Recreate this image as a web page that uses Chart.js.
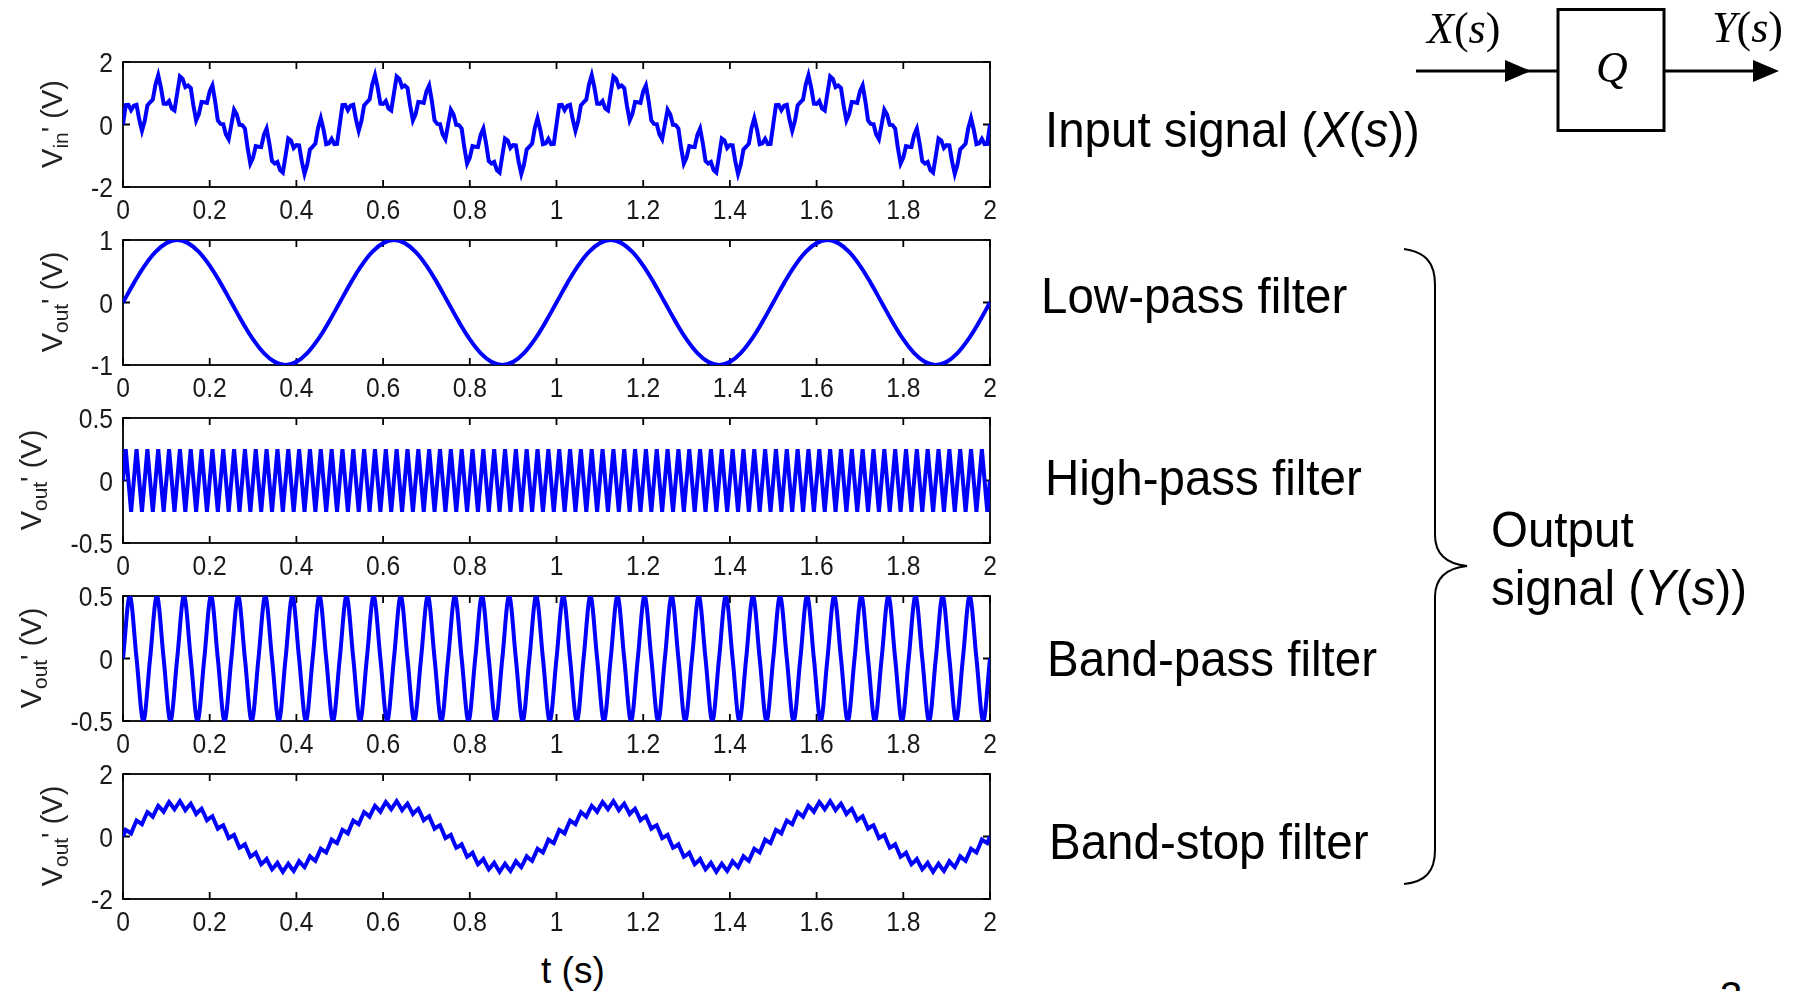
<!DOCTYPE html>
<html><head><meta charset="utf-8">
<script src="https://cdn.jsdelivr.net/npm/chart.js@4.4.1/dist/chart.umd.min.js"></script>
<style>
html,body{margin:0;padding:0;background:#fff;}
body{width:1801px;height:991px;overflow:hidden;position:relative;font-family:"Liberation Sans",Arial,sans-serif;}
canvas.panel{position:absolute;left:0;}
.lbl{position:absolute;font-size:50px;line-height:50px;white-space:nowrap;color:#000;transform-origin:0 50%;transform:scaleX(0.95);}
.ytitle{position:absolute;font-size:29px;line-height:29px;white-space:nowrap;color:#222;transform:translate(-50%,-50%) rotate(-90deg);}
.ytitle sub{font-size:72%;vertical-align:-0.3em;line-height:0;}
.xtitle{position:absolute;font-size:37px;line-height:37px;white-space:nowrap;color:#000;}
svg{position:absolute;left:0;top:0;}
</style></head><body>

<canvas id="c0" class="panel" width="1000" height="180" style="top:52px"></canvas>
<canvas id="c1" class="panel" width="1000" height="180" style="top:230px"></canvas>
<canvas id="c2" class="panel" width="1000" height="180" style="top:408px"></canvas>
<canvas id="c3" class="panel" width="1000" height="180" style="top:586px"></canvas>
<canvas id="c4" class="panel" width="1000" height="180" style="top:764px"></canvas>

<div class="ytitle" style="left:52px;top:124px">V<sub>in</sub>' (V)</div>
<div class="ytitle" style="left:52px;top:302px">V<sub>out</sub>' (V)</div>
<div class="ytitle" style="left:31px;top:480px">V<sub>out</sub>' (V)</div>
<div class="ytitle" style="left:31px;top:658px">V<sub>out</sub>' (V)</div>
<div class="ytitle" style="left:52px;top:836px">V<sub>out</sub>' (V)</div>

<div class="xtitle" style="left:541px;top:952px">t (s)</div>

<div class="lbl" style="left:1045px;top:105px">Input signal (<i>X</i>(<i>s</i>))</div>
<div class="lbl" style="left:1041px;top:271px">Low-pass filter</div>
<div class="lbl" style="left:1045px;top:453px">High-pass filter</div>
<div class="lbl" style="left:1047px;top:634px">Band-pass filter</div>
<div class="lbl" style="left:1049px;top:817px">Band-stop filter</div>
<div class="lbl" style="left:1491px;top:505px">Output</div>
<div class="lbl" style="left:1491px;top:563px">signal (<i>Y</i>(<i>s</i>))</div>
<div class="lbl" style="left:1720px;top:971px;font-size:40px;transform:none">3</div>

<svg width="1801" height="991" viewBox="0 0 1801 991">
  <path d="M1404,249 C1425,252 1435,262 1435,285 L1435,535 C1435,556 1448,564 1467,566 C1448,568 1435,576 1435,597 L1435,850 C1435,872 1425,882 1404,884" fill="none" stroke="#000" stroke-width="2"/>
  <rect x="1558" y="9.5" width="106" height="121" fill="none" stroke="#000" stroke-width="3"/>
  <line x1="1416" y1="71" x2="1558" y2="71" stroke="#000" stroke-width="3"/>
  <polygon points="1505,60 1531,71 1505,82" fill="#000"/>
  <line x1="1664" y1="71" x2="1760" y2="71" stroke="#000" stroke-width="3"/>
  <polygon points="1753,60 1779,71 1753,82" fill="#000"/>
  <text x="1427" y="43" font-family="Liberation Serif, Times New Roman, serif" font-size="44" font-style="italic">X<tspan font-style="normal">(</tspan>s<tspan font-style="normal">)</tspan></text>
  <text x="1712" y="42" font-family="Liberation Serif, Times New Roman, serif" font-size="44" font-style="italic">Y<tspan font-style="normal">(</tspan>s<tspan font-style="normal">)</tspan></text>
  <text x="1612" y="82" text-anchor="middle" font-family="Liberation Serif, Times New Roman, serif" font-size="44" font-style="italic">Q</text>
</svg>

<script>
// ---------- data ----------
const xTickValues = [0, 0.2, 0.4, 0.6, 0.8, 1, 1.2, 1.4, 1.6, 1.8, 2];
const xTickLabels = ['0', '0.2', '0.4', '0.6', '0.8', '1', '1.2', '1.4', '1.6', '1.8', '2'];

const yTicksInput = [-2, 0, 2];      const yLabelsInput = ['-2', '0', '2'];
const yTicksLow = [-1, 0, 1];        const yLabelsLow = ['-1', '0', '1'];
const yTicksHigh = [-0.5, 0, 0.5];   const yLabelsHigh = ['-0.5', '0', '0.5'];
const yTicksBand = [-0.5, 0, 0.5];   const yLabelsBand = ['-0.5', '0', '0.5'];
const yTicksStop = [-2, 0, 2];       const yLabelsStop = ['-2', '0', '2'];

// sample spacing (s) of each series
const inputStep = 0.00625;
const lowPassStep = 0.025;
const highPassStep = 0.00625;
const bandPassStep = 0.015625;
const bandStopStep = 0.00625;

const inputSignal = [
0,.62,.63,.46,.60,.63,.16,-.20,.11,.61,.71,.80,1.28,1.58,1.18,.67,.66,.75,.51,.45,
1.00,1.54,1.46,1.20,1.25,1.17,.60,.13,.33,.72,.71,.69,1.06,1.25,.75,.13,.02,.01,-.32,-.47,
0,.47,.32,-.01,-.02,-.13,-.75,-1.25,-1.06,-.69,-.71,-.72,-.33,-.13,-.60,-1.17,-1.25,-1.20,-1.46,-1.54,
-1.00,-.45,-.51,-.75,-.66,-.67,-1.18,-1.58,-1.28,-.80,-.71,-.61,-.11,.20,-.16,-.63,-.60,-.46,-.63,-.62,
0,.62,.63,.46,.60,.63,.16,-.20,.11,.61,.71,.80,1.28,1.58,1.18,.67,.66,.75,.51,.45,
1.00,1.54,1.46,1.20,1.25,1.17,.60,.13,.33,.72,.71,.69,1.06,1.25,.75,.13,.02,.01,-.32,-.47,
0,.47,.32,-.01,-.02,-.13,-.75,-1.25,-1.06,-.69,-.71,-.72,-.33,-.13,-.60,-1.17,-1.25,-1.20,-1.46,-1.54,
-1.00,-.45,-.51,-.75,-.66,-.67,-1.18,-1.58,-1.28,-.80,-.71,-.61,-.11,.20,-.16,-.63,-.60,-.46,-.63,-.62,
0,.62,.63,.46,.60,.63,.16,-.20,.11,.61,.71,.80,1.28,1.58,1.18,.67,.66,.75,.51,.45,
1.00,1.54,1.46,1.20,1.25,1.17,.60,.13,.33,.72,.71,.69,1.06,1.25,.75,.13,.02,.01,-.32,-.47,
0,.47,.32,-.01,-.02,-.13,-.75,-1.25,-1.06,-.69,-.71,-.72,-.33,-.13,-.60,-1.17,-1.25,-1.20,-1.46,-1.54,
-1.00,-.45,-.51,-.75,-.66,-.67,-1.18,-1.58,-1.28,-.80,-.71,-.61,-.11,.20,-.16,-.63,-.60,-.46,-.63,-.62,
0,.62,.63,.46,.60,.63,.16,-.20,.11,.61,.71,.80,1.28,1.58,1.18,.67,.66,.75,.51,.45,
1.00,1.54,1.46,1.20,1.25,1.17,.60,.13,.33,.72,.71,.69,1.06,1.25,.75,.13,.02,.01,-.32,-.47,
0,.47,.32,-.01,-.02,-.13,-.75,-1.25,-1.06,-.69,-.71,-.72,-.33,-.13,-.60,-1.17,-1.25,-1.20,-1.46,-1.54,
-1.00,-.45,-.51,-.75,-.66,-.67,-1.18,-1.58,-1.28,-.80,-.71,-.61,-.11,.20,-.16,-.63,-.60,-.46,-.63,-.62,
0];

const lowPassOut = [
0,.31,.59,.81,.95,1,.95,.81,.59,.31,0,-.31,-.59,-.81,-.95,-1,-.95,-.81,-.59,-.31,
0,.31,.59,.81,.95,1,.95,.81,.59,.31,0,-.31,-.59,-.81,-.95,-1,-.95,-.81,-.59,-.31,
0,.31,.59,.81,.95,1,.95,.81,.59,.31,0,-.31,-.59,-.81,-.95,-1,-.95,-.81,-.59,-.31,
0,.31,.59,.81,.95,1,.95,.81,.59,.31,0,-.31,-.59,-.81,-.95,-1,-.95,-.81,-.59,-.31,
0];

const highPassOut = [
0,.25,0,-.25,0,.25,0,-.25,0,.25,0,-.25,0,.25,0,-.25,0,.25,0,-.25,
0,.25,0,-.25,0,.25,0,-.25,0,.25,0,-.25,0,.25,0,-.25,0,.25,0,-.25,
0,.25,0,-.25,0,.25,0,-.25,0,.25,0,-.25,0,.25,0,-.25,0,.25,0,-.25,
0,.25,0,-.25,0,.25,0,-.25,0,.25,0,-.25,0,.25,0,-.25,0,.25,0,-.25,
0,.25,0,-.25,0,.25,0,-.25,0,.25,0,-.25,0,.25,0,-.25,0,.25,0,-.25,
0,.25,0,-.25,0,.25,0,-.25,0,.25,0,-.25,0,.25,0,-.25,0,.25,0,-.25,
0,.25,0,-.25,0,.25,0,-.25,0,.25,0,-.25,0,.25,0,-.25,0,.25,0,-.25,
0,.25,0,-.25,0,.25,0,-.25,0,.25,0,-.25,0,.25,0,-.25,0,.25,0,-.25,
0,.25,0,-.25,0,.25,0,-.25,0,.25,0,-.25,0,.25,0,-.25,0,.25,0,-.25,
0,.25,0,-.25,0,.25,0,-.25,0,.25,0,-.25,0,.25,0,-.25,0,.25,0,-.25,
0,.25,0,-.25,0,.25,0,-.25,0,.25,0,-.25,0,.25,0,-.25,0,.25,0,-.25,
0,.25,0,-.25,0,.25,0,-.25,0,.25,0,-.25,0,.25,0,-.25,0,.25,0,-.25,
0,.25,0,-.25,0,.25,0,-.25,0,.25,0,-.25,0,.25,0,-.25,0,.25,0,-.25,
0,.25,0,-.25,0,.25,0,-.25,0,.25,0,-.25,0,.25,0,-.25,0,.25,0,-.25,
0,.25,0,-.25,0,.25,0,-.25,0,.25,0,-.25,0,.25,0,-.25,0,.25,0,-.25,
0,.25,0,-.25,0,.25,0,-.25,0,.25,0,-.25,0,.25,0,-.25,0,.25,0,-.25,
0];

const bandPassOut = [
0,.5,0,-.5,0,.5,0,-.5,0,.5,0,-.5,0,.5,0,-.5,
0,.5,0,-.5,0,.5,0,-.5,0,.5,0,-.5,0,.5,0,-.5,
0,.5,0,-.5,0,.5,0,-.5,0,.5,0,-.5,0,.5,0,-.5,
0,.5,0,-.5,0,.5,0,-.5,0,.5,0,-.5,0,.5,0,-.5,
0,.5,0,-.5,0,.5,0,-.5,0,.5,0,-.5,0,.5,0,-.5,
0,.5,0,-.5,0,.5,0,-.5,0,.5,0,-.5,0,.5,0,-.5,
0,.5,0,-.5,0,.5,0,-.5,0,.5,0,-.5,0,.5,0,-.5,
0,.5,0,-.5,0,.5,0,-.5,0,.5,0,-.5,0,.5,0,-.5,
0];

const bandStopOut = [
0,.21,.16,.10,.31,.51,.45,.39,.59,.78,.71,.63,.81,.98,.89,.79,.95,1.10,.99,.87,
1.00,1.13,.99,.84,.95,1.05,.89,.72,.81,.89,.71,.52,.59,.65,.45,.25,.31,.36,.16,-.05,
0,.05,-.16,-.36,-.31,-.25,-.45,-.65,-.59,-.52,-.71,-.89,-.81,-.72,-.89,-1.05,-.95,-.84,-.99,-1.13,
-1.00,-.87,-.99,-1.10,-.95,-.79,-.89,-.98,-.81,-.63,-.71,-.78,-.59,-.39,-.45,-.51,-.31,-.10,-.16,-.21,
0,.21,.16,.10,.31,.51,.45,.39,.59,.78,.71,.63,.81,.98,.89,.79,.95,1.10,.99,.87,
1.00,1.13,.99,.84,.95,1.05,.89,.72,.81,.89,.71,.52,.59,.65,.45,.25,.31,.36,.16,-.05,
0,.05,-.16,-.36,-.31,-.25,-.45,-.65,-.59,-.52,-.71,-.89,-.81,-.72,-.89,-1.05,-.95,-.84,-.99,-1.13,
-1.00,-.87,-.99,-1.10,-.95,-.79,-.89,-.98,-.81,-.63,-.71,-.78,-.59,-.39,-.45,-.51,-.31,-.10,-.16,-.21,
0,.21,.16,.10,.31,.51,.45,.39,.59,.78,.71,.63,.81,.98,.89,.79,.95,1.10,.99,.87,
1.00,1.13,.99,.84,.95,1.05,.89,.72,.81,.89,.71,.52,.59,.65,.45,.25,.31,.36,.16,-.05,
0,.05,-.16,-.36,-.31,-.25,-.45,-.65,-.59,-.52,-.71,-.89,-.81,-.72,-.89,-1.05,-.95,-.84,-.99,-1.13,
-1.00,-.87,-.99,-1.10,-.95,-.79,-.89,-.98,-.81,-.63,-.71,-.78,-.59,-.39,-.45,-.51,-.31,-.10,-.16,-.21,
0,.21,.16,.10,.31,.51,.45,.39,.59,.78,.71,.63,.81,.98,.89,.79,.95,1.10,.99,.87,
1.00,1.13,.99,.84,.95,1.05,.89,.72,.81,.89,.71,.52,.59,.65,.45,.25,.31,.36,.16,-.05,
0,.05,-.16,-.36,-.31,-.25,-.45,-.65,-.59,-.52,-.71,-.89,-.81,-.72,-.89,-1.05,-.95,-.84,-.99,-1.13,
-1.00,-.87,-.99,-1.10,-.95,-.79,-.89,-.98,-.81,-.63,-.71,-.78,-.59,-.39,-.45,-.51,-.31,-.10,-.16,-.21,
0];

// ---------- drawing ----------
const TICK = 7;
const LABEL_FONT = '28px "Liberation Sans", Arial, sans-serif';
const SQUEEZE = 0.88;

function squeezeText(ctx, text, x, y, align) {
  ctx.save();
  ctx.translate(x, y);
  ctx.scale(SQUEEZE, 1);
  ctx.textAlign = align;
  ctx.fillText(text, 0, 0);
  ctx.restore();
}

function axesPlugin(yTicks, yLabels) {
  return {
    id: 'matlabAxes',
    beforeDatasetsDraw(chart) {
      const ctx = chart.ctx, a = chart.chartArea;
      const xs = chart.scales.x, ys = chart.scales.y;
      ctx.save();
      ctx.strokeStyle = '#000';
      ctx.lineWidth = 1.8;
      ctx.strokeRect(a.left, a.top, a.right - a.left, a.bottom - a.top);
      ctx.beginPath();
      xTickValues.forEach(v => {
        const px = xs.getPixelForValue(v);
        ctx.moveTo(px, a.bottom); ctx.lineTo(px, a.bottom - TICK);
        ctx.moveTo(px, a.top); ctx.lineTo(px, a.top + TICK);
      });
      yTicks.forEach(v => {
        const py = ys.getPixelForValue(v);
        ctx.moveTo(a.left, py); ctx.lineTo(a.left + TICK, py);
        ctx.moveTo(a.right, py); ctx.lineTo(a.right - TICK, py);
      });
      ctx.stroke();
      ctx.fillStyle = '#1a1a1a';
      ctx.font = LABEL_FONT;
      ctx.textBaseline = 'alphabetic';
      xTickValues.forEach((v, i) => squeezeText(ctx, xTickLabels[i], xs.getPixelForValue(v), a.bottom + 32, 'center'));
      yTicks.forEach((v, i) => squeezeText(ctx, yLabels[i], a.left - 10, ys.getPixelForValue(v) + 10, 'right'));
      ctx.restore();
    }
  };
}

function makePanel(id, step, values, yMin, yMax, yTicks, yLabels, curve) {
  const pts = values.map((v, i) => ({ x: i * step, y: v }));
  const ds = { data: pts, borderColor: '#0000ff', borderWidth: 4, pointRadius: 0, fill: false, tension: 0,
               borderJoinStyle: 'miter' };
  if (curve === 'smooth') ds.tension = 0.4;
  if (curve === 'monotone') ds.cubicInterpolationMode = 'monotone';
  new Chart(document.getElementById(id), {
    type: 'line',
    data: { datasets: [ds] },
    options: {
      responsive: false, animation: false, devicePixelRatio: 1, events: [],
      layout: { padding: { top: 10, right: 10, left: 0, bottom: 0 } },
      plugins: { legend: { display: false }, tooltip: { enabled: false }, title: { display: false } },
      scales: {
        x: { type: 'linear', min: 0, max: 2, ticks: { display: false }, grid: { display: false }, border: { display: false },
             afterFit: s => { s.height = 45; } },
        y: { type: 'linear', min: yMin, max: yMax, ticks: { display: false }, grid: { display: false }, border: { display: false },
             afterFit: s => { s.width = 123; } }
      }
    },
    plugins: [axesPlugin(yTicks, yLabels)]
  });
}

makePanel('c0', inputStep, inputSignal, -2, 2, yTicksInput, yLabelsInput, 'line');
makePanel('c1', lowPassStep, lowPassOut, -1, 1, yTicksLow, yLabelsLow, 'smooth');
makePanel('c2', highPassStep, highPassOut, -0.5, 0.5, yTicksHigh, yLabelsHigh, 'line');
makePanel('c3', bandPassStep, bandPassOut, -0.5, 0.5, yTicksBand, yLabelsBand, 'monotone');
makePanel('c4', bandStopStep, bandStopOut, -2, 2, yTicksStop, yLabelsStop, 'line');
</script>
</body></html>
